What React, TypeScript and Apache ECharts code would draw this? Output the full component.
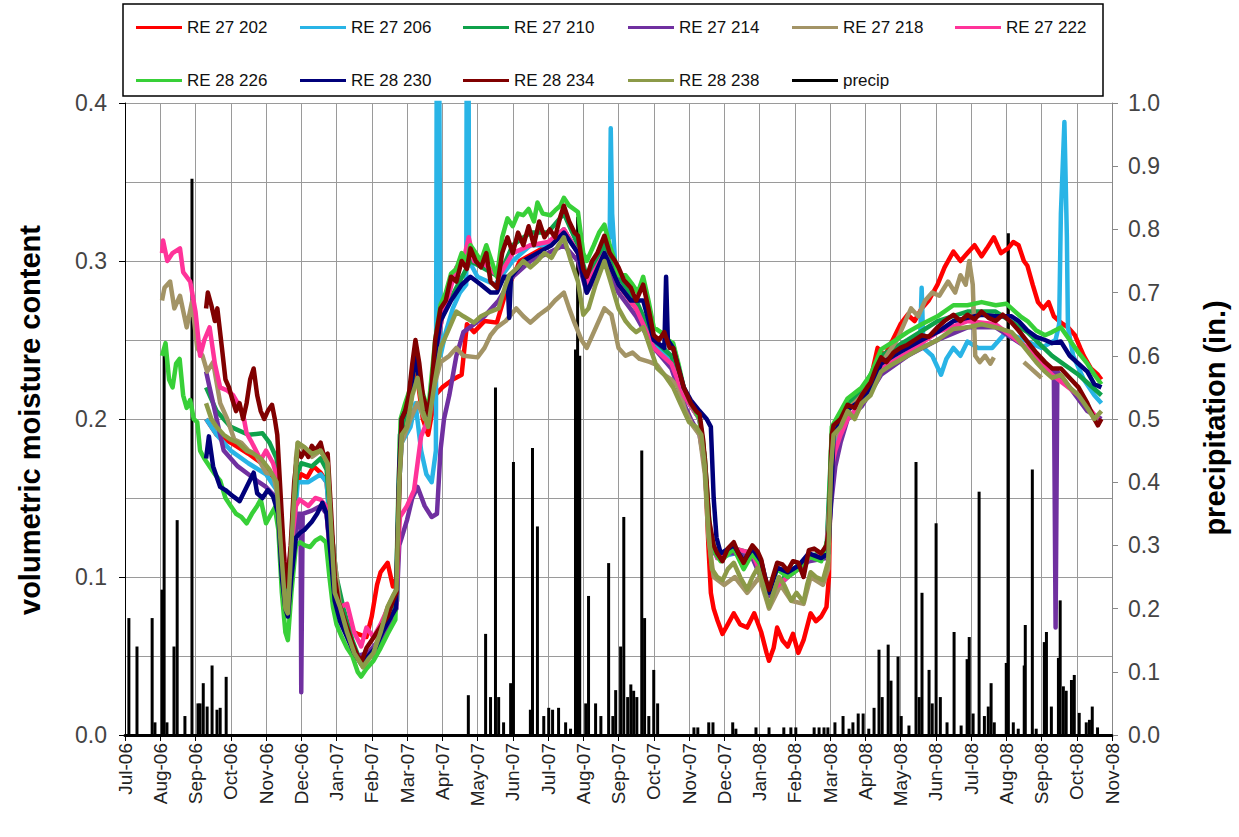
import React, { useEffect, useRef } from "react";
import * as echarts from "echarts";

const monthLabels = [
  "Jul-06", "Aug-06", "Sep-06", "Oct-06", "Nov-06", "Dec-06", "Jan-07", "Feb-07", "Mar-07", "Apr-07",
  "May-07", "Jun-07", "Jul-07", "Aug-07", "Sep-07", "Oct-07", "Nov-07", "Dec-07", "Jan-08", "Feb-08",
  "Mar-08", "Apr-08", "May-08", "Jun-08", "Jul-08", "Aug-08", "Sep-08", "Oct-08", "Nov-08",
];

const seriesNames = [
  "RE 27 202", "RE 27 206", "RE 27 210", "RE 27 214", "RE 27 218", "RE 27 222",
  "RE 28 226", "RE 28 230", "RE 28 234", "RE 28 238",
];
const precipName = "precip";

const seriesColors = [
  "#ff0000", "#29b4e6", "#0fa14a", "#7030a0", "#a39466", "#ff3399",
  "#38d038", "#00007a", "#800000", "#8c9a48",
];

type P = [number, number | null];

// x = months since 1 Jul 2006, y = volumetric moisture content
const re27_202: P[] = [[2.3,0.2],[2.6,0.19],[3.0,0.185],[3.5,0.178],[4.0,0.17],[4.3,0.16],[4.45,0.12],[4.58,0.085],[4.72,0.12],[4.88,0.16],[5.0,0.165],[5.17,0.163],[5.35,0.17],[5.55,0.166],[5.72,0.16],[5.85,0.125],[6.0,0.09],[6.2,0.075],[6.4,0.066],[6.6,0.064],[6.85,0.062],[7.0,0.075],[7.15,0.095],[7.25,0.103],[7.45,0.109],[7.6,0.094],[7.72,0.1],[7.8,0.17],[7.9,0.2],[8.1,0.21],[8.24,0.235],[8.45,0.2],[8.6,0.19],[8.8,0.215],[9.0,0.22],[9.3,0.225],[9.55,0.228],[9.7,0.26],[9.9,0.255],[10.2,0.262],[10.55,0.261],[10.8,0.28],[11.2,0.3],[11.6,0.305],[12.0,0.31],[12.45,0.32],[12.85,0.305],[13.1,0.285],[13.6,0.305],[14.0,0.285],[14.5,0.27],[15.0,0.245],[15.5,0.235],[15.85,0.215],[16.3,0.2],[16.45,0.175],[16.55,0.12],[16.62,0.09],[16.7,0.08],[16.8,0.073],[16.95,0.064],[17.1,0.07],[17.27,0.077],[17.45,0.07],[17.65,0.068],[17.85,0.077],[18.05,0.065],[18.2,0.052],[18.27,0.047],[18.4,0.055],[18.5,0.068],[18.65,0.06],[18.8,0.056],[18.95,0.064],[19.1,0.052],[19.25,0.06],[19.45,0.077],[19.6,0.072],[19.75,0.075],[19.9,0.081],[19.97,0.1],[20.03,0.18],[20.1,0.19],[20.3,0.198],[20.5,0.205],[20.9,0.215],[21.15,0.225],[21.35,0.245],[21.55,0.24],[21.8,0.251],[22.0,0.26],[22.2,0.266],[22.4,0.262],[22.6,0.27],[22.8,0.275],[23.05,0.285],[23.25,0.296],[23.5,0.306],[23.7,0.3],[23.9,0.305],[24.1,0.31],[24.3,0.303],[24.45,0.308],[24.65,0.315],[24.85,0.305],[25.05,0.308],[25.2,0.312],[25.35,0.31],[25.5,0.3],[25.6,0.297],[25.75,0.285],[25.9,0.274],[26.05,0.27],[26.2,0.274],[26.35,0.265],[26.55,0.261],[26.75,0.258],[26.95,0.253],[27.1,0.245],[27.2,0.24],[27.4,0.232],[27.6,0.228],[27.7,0.225]];

const re27_206: P[] = [[2.3,0.2],[2.6,0.19],[3.0,0.18],[3.5,0.172],[4.0,0.165],[4.3,0.155],[4.45,0.11],[4.58,0.08],[4.72,0.11],[4.9,0.16],[5.2,0.16],[5.55,0.165],[5.72,0.16],[5.85,0.12],[6.1,0.078],[6.5,0.055],[6.75,0.045],[7.05,0.052],[7.45,0.072],[7.7,0.085],[7.78,0.16],[7.85,0.185],[8.1,0.195],[8.24,0.21],[8.4,0.18],[8.55,0.165],[8.7,0.16],[8.82,0.18],[8.85,0.5],[8.9,0.5],[8.95,0.24],[9.1,0.255],[9.3,0.27],[9.5,0.28],[9.68,0.285],[9.7,0.5],[9.74,0.5],[9.76,0.3],[10.0,0.29],[10.5,0.285],[11.0,0.3],[11.5,0.31],[12.0,0.31],[12.45,0.32],[12.85,0.305],[13.1,0.285],[13.6,0.31],[13.75,0.315],[13.78,0.384],[13.82,0.33],[13.9,0.3],[14.0,0.29],[14.5,0.272],[15.0,0.248],[15.5,0.238],[15.85,0.215],[16.3,0.2],[16.45,0.17],[16.6,0.125],[16.8,0.112],[17.3,0.115],[17.8,0.113],[18.27,0.09],[18.8,0.1],[19.4,0.112],[19.9,0.115],[20.05,0.18],[20.3,0.195],[20.9,0.21],[21.45,0.232],[21.8,0.238],[22.2,0.24],[22.55,0.245],[22.6,0.283],[22.65,0.245],[22.9,0.24],[23.15,0.228],[23.3,0.238],[23.5,0.245],[23.7,0.24],[23.9,0.249],[24.2,0.245],[24.6,0.245],[25.0,0.255],[25.5,0.25],[26.0,0.245],[26.4,0.25],[26.5,0.26],[26.55,0.33],[26.65,0.388],[26.72,0.315],[26.75,0.258],[26.9,0.24],[27.2,0.225],[27.5,0.215],[27.7,0.21]];

const re27_210: P[] = [[2.3,0.22],[2.6,0.205],[3.0,0.195],[3.5,0.19],[3.9,0.191],[4.1,0.185],[4.3,0.175],[4.45,0.13],[4.58,0.09],[4.72,0.12],[4.88,0.165],[5.0,0.172],[5.3,0.17],[5.55,0.175],[5.72,0.168],[5.85,0.13],[6.0,0.1],[6.2,0.08],[6.45,0.06],[6.7,0.045],[7.0,0.05],[7.3,0.062],[7.6,0.075],[7.72,0.085],[7.8,0.19],[8.1,0.215],[8.24,0.24],[8.45,0.21],[8.6,0.2],[8.8,0.24],[9.0,0.265],[9.4,0.283],[9.8,0.3],[10.2,0.295],[10.6,0.29],[11.0,0.31],[11.5,0.318],[12.0,0.318],[12.45,0.33],[12.85,0.31],[13.1,0.29],[13.6,0.31],[14.0,0.29],[14.5,0.275],[15.0,0.25],[15.5,0.24],[15.85,0.218],[16.3,0.2],[16.45,0.175],[16.6,0.125],[16.8,0.113],[17.3,0.118],[17.8,0.115],[18.27,0.09],[18.8,0.102],[19.4,0.113],[19.9,0.116],[20.05,0.19],[20.5,0.21],[20.9,0.218],[21.45,0.24],[22.2,0.25],[23.05,0.262],[23.9,0.268],[24.7,0.268],[25.6,0.255],[26.3,0.24],[27.05,0.228],[27.7,0.215]];

const re27_214: P[] = [[2.3,0.23],[2.4,0.22],[2.6,0.2],[2.8,0.18],[3.0,0.175],[3.2,0.17],[3.5,0.165],[3.8,0.16],[4.0,0.157],[4.3,0.15],[4.45,0.11],[4.55,0.08],[4.62,0.078],[4.75,0.11],[4.9,0.14],[4.98,0.14],[5.0,0.027],[5.04,0.14],[5.3,0.142],[5.55,0.145],[5.72,0.14],[5.85,0.105],[6.0,0.085],[6.3,0.065],[6.6,0.05],[6.9,0.052],[7.2,0.06],[7.5,0.07],[7.7,0.08],[7.78,0.12],[7.85,0.125],[8.0,0.136],[8.15,0.15],[8.3,0.157],[8.5,0.145],[8.7,0.138],[8.85,0.14],[8.95,0.18],[9.05,0.2],[9.2,0.215],[9.4,0.24],[9.6,0.255],[9.9,0.26],[10.2,0.265],[10.6,0.275],[11.0,0.29],[11.5,0.3],[12.0,0.305],[12.45,0.31],[12.85,0.3],[13.1,0.28],[13.6,0.3],[14.0,0.28],[14.5,0.265],[15.0,0.245],[15.5,0.232],[15.85,0.21],[16.05,0.2],[16.3,0.19],[16.45,0.17],[16.55,0.13],[16.7,0.115],[17.3,0.115],[17.8,0.112],[18.27,0.088],[18.8,0.1],[19.4,0.11],[19.9,0.112],[20.05,0.15],[20.15,0.17],[20.3,0.185],[20.5,0.2],[20.9,0.208],[21.45,0.228],[22.2,0.24],[23.05,0.25],[23.9,0.258],[24.7,0.258],[25.6,0.245],[26.2,0.232],[26.35,0.23],[26.4,0.068],[26.45,0.23],[26.8,0.22],[27.3,0.205],[27.7,0.2]];

const re27_218: P[] = [[1.05,0.275],[1.12,0.283],[1.28,0.287],[1.4,0.27],[1.56,0.278],[1.75,0.258],[1.9,0.274],[2.05,0.245],[2.2,0.24],[2.33,0.23],[2.5,0.236],[2.7,0.21],[2.9,0.2],[3.1,0.187],[3.3,0.185],[3.5,0.18],[3.7,0.178],[4.0,0.166],[4.2,0.165],[4.35,0.15],[4.45,0.11],[4.55,0.078],[4.62,0.077],[4.72,0.12],[4.85,0.175],[4.9,0.185],[5.1,0.18],[5.3,0.176],[5.55,0.18],[5.75,0.172],[5.85,0.13],[6.1,0.081],[6.5,0.052],[6.75,0.043],[7.05,0.052],[7.45,0.081],[7.7,0.092],[7.78,0.16],[7.85,0.185],[8.1,0.2],[8.3,0.21],[8.5,0.2],[8.7,0.215],[8.95,0.236],[9.2,0.24],[9.4,0.245],[9.6,0.24],[10.0,0.239],[10.2,0.245],[10.37,0.253],[10.55,0.258],[10.8,0.262],[11.1,0.27],[11.3,0.265],[11.5,0.261],[11.75,0.266],[12.0,0.27],[12.2,0.275],[12.45,0.28],[12.6,0.27],[12.75,0.261],[12.95,0.25],[13.1,0.245],[13.3,0.255],[13.6,0.27],[13.8,0.266],[14.0,0.245],[14.2,0.24],[14.4,0.242],[14.6,0.238],[14.9,0.236],[15.1,0.234],[15.3,0.228],[15.5,0.225],[15.7,0.22],[15.9,0.205],[16.1,0.196],[16.3,0.19],[16.45,0.165],[16.55,0.125],[16.7,0.1],[17.0,0.095],[17.3,0.1],[17.65,0.09],[18.0,0.1],[18.27,0.08],[18.6,0.095],[18.9,0.085],[19.25,0.083],[19.45,0.1],[19.8,0.095],[19.95,0.105],[20.05,0.185],[20.5,0.205],[20.9,0.215],[21.3,0.23],[21.6,0.24],[21.9,0.25],[22.1,0.26],[22.3,0.27],[22.5,0.265],[22.7,0.275],[22.9,0.28],[23.1,0.278],[23.35,0.287],[23.55,0.28],[23.7,0.291],[23.85,0.285],[23.95,0.3],[24.05,0.285],[24.12,0.24],[24.25,0.236],[24.4,0.24],[24.55,0.235],[24.65,0.239],[24.8,null],[25.5,0.236],[25.7,0.232],[26.0,0.226]];

const re27_222: P[] = [[1.05,0.305],[1.08,0.313],[1.2,0.3],[1.35,0.305],[1.56,0.308],[1.65,0.293],[1.85,0.287],[2.0,0.268],[2.13,0.24],[2.25,0.25],[2.4,0.258],[2.55,0.235],[2.7,0.22],[2.9,0.218],[3.07,0.215],[3.2,0.21],[3.35,0.203],[3.45,0.191],[3.6,0.185],[3.85,0.174],[4.0,0.18],[4.2,0.172],[4.35,0.16],[4.45,0.13],[4.55,0.104],[4.62,0.1],[4.72,0.12],[4.85,0.145],[4.95,0.149],[5.2,0.145],[5.4,0.15],[5.55,0.149],[5.7,0.145],[5.85,0.11],[6.0,0.085],[6.1,0.081],[6.3,0.083],[6.5,0.065],[6.7,0.056],[6.85,0.068],[7.05,0.062],[7.25,0.07],[7.45,0.08],[7.7,0.09],[7.78,0.13],[7.8,0.138],[8.0,0.145],[8.2,0.155],[8.4,0.189],[8.6,0.2],[8.8,0.24],[9.0,0.265],[9.2,0.28],[9.4,0.296],[9.6,0.3],[9.75,0.315],[9.9,0.3],[10.2,0.298],[10.6,0.29],[11.0,0.305],[11.5,0.31],[12.0,0.312],[12.45,0.32],[12.85,0.305],[13.1,0.285],[13.6,0.305],[14.0,0.285],[14.5,0.27],[15.0,0.245],[15.5,0.235],[15.85,0.215],[16.3,0.2],[16.45,0.17],[16.6,0.125],[16.8,0.112],[17.3,0.118],[17.8,0.115],[18.27,0.09],[18.8,0.1],[19.4,0.112],[19.9,0.115],[20.05,0.17],[20.15,0.18],[20.3,0.19],[20.5,0.2],[20.9,0.21],[21.45,0.232],[22.2,0.242],[23.05,0.255],[23.9,0.262],[24.7,0.26],[25.6,0.245],[26.3,0.228],[27.05,0.215],[27.6,0.2]];

const re28_226: P[] = [[1.05,0.24],[1.15,0.248],[1.25,0.225],[1.35,0.22],[1.45,0.235],[1.55,0.238],[1.65,0.215],[1.75,0.207],[1.85,0.212],[1.95,0.2],[2.05,0.198],[2.13,0.18],[2.25,0.175],[2.4,0.17],[2.55,0.165],[2.7,0.161],[2.85,0.15],[3.0,0.145],[3.15,0.14],[3.3,0.138],[3.45,0.134],[3.6,0.14],[3.75,0.145],[3.85,0.149],[4.0,0.134],[4.1,0.138],[4.25,0.144],[4.35,0.13],[4.45,0.09],[4.55,0.065],[4.62,0.06],[4.72,0.09],[4.85,0.12],[4.97,0.122],[5.1,0.12],[5.25,0.119],[5.4,0.123],[5.55,0.125],[5.7,0.122],[5.8,0.1],[5.9,0.081],[6.0,0.07],[6.15,0.062],[6.3,0.055],[6.45,0.05],[6.6,0.04],[6.7,0.037],[6.85,0.042],[7.05,0.047],[7.25,0.055],[7.45,0.064],[7.67,0.073],[7.75,0.15],[7.82,0.2],[7.95,0.21],[8.1,0.22],[8.24,0.245],[8.4,0.22],[8.6,0.205],[8.8,0.25],[8.95,0.272],[9.1,0.28],[9.25,0.292],[9.4,0.295],[9.55,0.305],[9.7,0.3],[9.8,0.31],[9.95,0.305],[10.1,0.3],[10.25,0.31],[10.4,0.3],[10.55,0.29],[10.7,0.315],[10.85,0.327],[11.0,0.322],[11.15,0.33],[11.3,0.329],[11.45,0.333],[11.6,0.325],[11.7,0.337],[11.85,0.33],[12.07,0.329],[12.2,0.332],[12.35,0.335],[12.45,0.34],[12.6,0.335],[12.85,0.331],[13.0,0.305],[13.1,0.3],[13.3,0.31],[13.45,0.318],[13.6,0.323],[13.75,0.31],[13.9,0.3],[14.0,0.291],[14.2,0.291],[14.4,0.285],[14.55,0.28],[14.7,0.29],[14.85,0.275],[15.0,0.258],[15.2,0.255],[15.4,0.25],[15.55,0.248],[15.7,0.235],[15.85,0.22],[16.05,0.21],[16.3,0.2],[16.4,0.185],[16.5,0.155],[16.6,0.13],[16.75,0.115],[16.9,0.11],[17.27,0.118],[17.55,0.105],[17.8,0.115],[18.05,0.107],[18.27,0.09],[18.5,0.105],[18.8,0.1],[19.1,0.105],[19.4,0.113],[19.75,0.11],[19.95,0.125],[20.05,0.195],[20.3,0.205],[20.5,0.213],[20.9,0.22],[21.15,0.228],[21.45,0.244],[21.8,0.249],[22.2,0.255],[22.6,0.26],[23.05,0.265],[23.5,0.272],[23.9,0.272],[24.3,0.274],[24.7,0.272],[25.0,0.273],[25.15,0.27],[25.4,0.265],[25.6,0.262],[25.85,0.256],[26.1,0.253],[26.3,0.255],[26.55,0.258],[26.8,0.25],[27.05,0.242],[27.3,0.235],[27.5,0.228],[27.7,0.222]];

const re28_230: P[] = [[2.3,0.175],[2.38,0.189],[2.5,0.17],[2.7,0.157],[2.85,0.155],[3.07,0.151],[3.25,0.148],[3.45,0.157],[3.65,0.166],[3.75,0.153],[3.9,0.15],[4.05,0.155],[4.2,0.151],[4.35,0.14],[4.45,0.1],[4.55,0.08],[4.62,0.075],[4.72,0.1],[4.85,0.125],[4.97,0.128],[5.1,0.13],[5.3,0.135],[5.45,0.14],[5.6,0.147],[5.72,0.14],[5.85,0.11],[5.95,0.085],[6.1,0.072],[6.3,0.062],[6.5,0.052],[6.7,0.045],[6.9,0.05],[7.1,0.055],[7.3,0.065],[7.5,0.073],[7.68,0.08],[7.78,0.17],[7.85,0.2],[8.05,0.21],[8.24,0.24],[8.45,0.21],[8.6,0.2],[8.8,0.24],[8.95,0.262],[9.25,0.275],[9.55,0.285],[9.8,0.29],[10.1,0.285],[10.37,0.28],[10.55,0.28],[10.75,0.29],[10.85,0.29],[10.9,0.264],[10.95,0.29],[11.3,0.3],[11.7,0.305],[12.1,0.31],[12.45,0.318],[12.85,0.305],[13.1,0.28],[13.6,0.305],[14.0,0.285],[14.35,0.275],[14.7,0.275],[15.0,0.25],[15.3,0.245],[15.35,0.29],[15.4,0.25],[15.55,0.245],[15.85,0.22],[16.05,0.212],[16.3,0.205],[16.5,0.2],[16.62,0.195],[16.7,0.15],[16.78,0.125],[16.9,0.115],[17.27,0.12],[17.55,0.11],[17.8,0.118],[18.05,0.11],[18.27,0.09],[18.5,0.106],[18.8,0.103],[19.1,0.107],[19.4,0.115],[19.75,0.112],[19.95,0.115],[20.03,0.15],[20.1,0.19],[20.5,0.206],[20.9,0.212],[21.15,0.22],[21.45,0.235],[21.8,0.24],[22.2,0.245],[22.6,0.25],[23.05,0.255],[23.5,0.262],[23.9,0.264],[24.3,0.266],[24.7,0.265],[25.15,0.265],[25.35,0.262],[25.6,0.256],[25.85,0.252],[26.1,0.25],[26.3,0.248],[26.55,0.249],[26.8,0.24],[27.05,0.235],[27.3,0.23],[27.5,0.222],[27.7,0.22]];

const re28_234: P[] = [[2.3,0.27],[2.35,0.28],[2.45,0.272],[2.55,0.262],[2.62,0.27],[2.75,0.245],[2.85,0.225],[2.95,0.22],[3.05,0.212],[3.15,0.205],[3.25,0.21],[3.35,0.2],[3.45,0.21],[3.55,0.225],[3.65,0.232],[3.75,0.215],[3.85,0.205],[3.95,0.2],[4.05,0.205],[4.17,0.209],[4.25,0.2],[4.32,0.19],[4.42,0.15],[4.52,0.11],[4.6,0.094],[4.7,0.12],[4.8,0.16],[4.9,0.18],[5.0,0.176],[5.1,0.18],[5.2,0.176],[5.3,0.183],[5.4,0.18],[5.55,0.185],[5.65,0.176],[5.75,0.178],[5.85,0.14],[5.95,0.1],[6.05,0.085],[6.15,0.078],[6.3,0.068],[6.45,0.058],[6.6,0.05],[6.72,0.047],[6.85,0.055],[7.0,0.06],[7.15,0.065],[7.3,0.07],[7.45,0.075],[7.6,0.085],[7.7,0.09],[7.78,0.16],[7.85,0.2],[7.95,0.205],[8.05,0.215],[8.15,0.235],[8.24,0.25],[8.35,0.235],[8.45,0.215],[8.6,0.203],[8.7,0.22],[8.8,0.25],[8.95,0.27],[9.1,0.275],[9.25,0.29],[9.4,0.287],[9.55,0.3],[9.7,0.295],[9.8,0.308],[9.95,0.3],[10.1,0.296],[10.25,0.305],[10.37,0.287],[10.55,0.283],[10.7,0.305],[10.85,0.315],[11.0,0.305],[11.15,0.318],[11.3,0.31],[11.45,0.322],[11.6,0.31],[11.75,0.325],[11.9,0.315],[12.05,0.32],[12.2,0.315],[12.35,0.328],[12.45,0.335],[12.6,0.325],[12.75,0.318],[12.85,0.316],[13.0,0.295],[13.1,0.29],[13.25,0.3],[13.4,0.305],[13.6,0.316],[13.75,0.305],[13.9,0.3],[14.0,0.296],[14.15,0.288],[14.35,0.283],[14.5,0.275],[14.7,0.285],[14.85,0.27],[15.0,0.253],[15.15,0.25],[15.3,0.255],[15.45,0.245],[15.55,0.245],[15.7,0.232],[15.85,0.22],[16.05,0.21],[16.2,0.205],[16.3,0.203],[16.4,0.187],[16.5,0.16],[16.57,0.136],[16.7,0.12],[16.8,0.115],[16.95,0.11],[17.1,0.118],[17.27,0.122],[17.4,0.115],[17.55,0.109],[17.7,0.116],[17.8,0.12],[17.95,0.116],[18.05,0.111],[18.15,0.1],[18.27,0.092],[18.38,0.1],[18.5,0.109],[18.65,0.108],[18.8,0.104],[18.95,0.11],[19.1,0.109],[19.25,0.1],[19.4,0.117],[19.55,0.118],[19.75,0.115],[19.9,0.12],[19.97,0.13],[20.05,0.19],[20.1,0.196],[20.3,0.2],[20.5,0.209],[20.7,0.207],[20.9,0.215],[21.05,0.22],[21.15,0.223],[21.3,0.232],[21.45,0.239],[21.6,0.236],[21.8,0.242],[22.0,0.245],[22.2,0.247],[22.4,0.25],[22.6,0.253],[22.8,0.252],[23.05,0.258],[23.25,0.262],[23.5,0.266],[23.7,0.262],[23.9,0.266],[24.1,0.263],[24.3,0.268],[24.5,0.264],[24.7,0.262],[24.9,0.266],[25.15,0.261],[25.35,0.256],[25.6,0.249],[25.85,0.242],[26.1,0.236],[26.3,0.232],[26.55,0.232],[26.8,0.226],[27.05,0.22],[27.3,0.21],[27.5,0.2],[27.6,0.196],[27.7,0.2]];

const re28_238: P[] = [[2.3,0.21],[2.45,0.2],[2.6,0.195],[2.8,0.19],[3.0,0.187],[3.2,0.185],[3.45,0.18],[3.65,0.178],[3.85,0.175],[4.1,0.168],[4.3,0.16],[4.42,0.12],[4.55,0.08],[4.62,0.077],[4.72,0.12],[4.85,0.17],[4.9,0.185],[5.1,0.182],[5.3,0.178],[5.55,0.18],[5.75,0.172],[5.85,0.13],[5.95,0.09],[6.1,0.081],[6.3,0.065],[6.5,0.052],[6.75,0.043],[6.9,0.048],[7.05,0.052],[7.25,0.065],[7.45,0.081],[7.6,0.088],[7.7,0.092],[7.78,0.16],[7.85,0.19],[8.0,0.195],[8.15,0.215],[8.3,0.226],[8.45,0.205],[8.6,0.195],[8.8,0.225],[8.95,0.245],[9.15,0.255],[9.4,0.268],[9.6,0.265],[9.9,0.261],[10.1,0.265],[10.37,0.268],[10.6,0.27],[10.8,0.285],[10.9,0.291],[11.1,0.295],[11.3,0.3],[11.5,0.296],[11.7,0.3],[11.9,0.305],[12.1,0.302],[12.3,0.31],[12.45,0.315],[12.65,0.3],[12.85,0.287],[13.0,0.266],[13.15,0.27],[13.35,0.285],[13.6,0.3],[13.8,0.285],[14.0,0.27],[14.2,0.262],[14.35,0.258],[14.5,0.255],[14.7,0.258],[14.9,0.245],[15.1,0.232],[15.3,0.228],[15.55,0.22],[15.75,0.21],[16.0,0.198],[16.2,0.195],[16.35,0.19],[16.45,0.17],[16.55,0.13],[16.65,0.105],[16.8,0.1],[16.95,0.098],[17.1,0.105],[17.27,0.109],[17.45,0.1],[17.65,0.092],[17.8,0.1],[17.95,0.106],[18.1,0.095],[18.27,0.081],[18.4,0.09],[18.55,0.1],[18.7,0.095],[18.9,0.085],[19.05,0.09],[19.25,0.084],[19.35,0.095],[19.45,0.103],[19.6,0.1],[19.8,0.098],[19.95,0.11],[20.03,0.17],[20.1,0.19],[20.3,0.195],[20.5,0.205],[20.7,0.2],[20.9,0.21],[21.15,0.215],[21.45,0.23],[21.8,0.235],[22.2,0.24],[22.6,0.245],[23.05,0.25],[23.5,0.257],[23.9,0.258],[24.3,0.26],[24.7,0.258],[25.15,0.255],[25.35,0.25],[25.6,0.243],[25.85,0.236],[26.1,0.23],[26.3,0.226],[26.55,0.228],[26.8,0.22],[27.05,0.215],[27.3,0.207],[27.5,0.2],[27.7,0.205]];

// daily precipitation (in.), x = months since 1 Jul 2006
const precip: [number, number][] = [[0.11,0.185],[0.34,0.14],[0.77,0.185],[0.85,0.02],[1.05,0.23],[1.11,0.605],[1.19,0.02],[1.39,0.14],[1.48,0.34],[1.7,0.03],[1.9,0.88],[2.07,0.05],[2.13,0.05],[2.22,0.082],[2.33,0.045],[2.47,0.11],[2.61,0.04],[2.7,0.043],[2.87,0.092],[9.74,0.063],[10.23,0.16],[10.37,0.06],[10.51,0.55],[10.6,0.06],[10.74,0.02],[10.94,0.082],[11.02,0.432],[11.5,0.04],[11.56,0.454],[11.7,0.33],[11.88,0.03],[12.02,0.043],[12.13,0.04],[12.3,0.043],[12.5,0.02],[12.64,0.01],[12.78,0.61],[12.84,0.82],[12.9,0.6],[13.07,0.05],[13.15,0.22],[13.35,0.05],[13.5,0.03],[13.72,0.272],[13.84,0.03],[13.92,0.071],[14.06,0.14],[14.15,0.345],[14.26,0.06],[14.35,0.08],[14.43,0.07],[14.52,0.06],[14.66,0.45],[14.74,0.185],[14.86,0.03],[15.0,0.103],[15.11,0.05],[16.14,0.012],[16.25,0.012],[16.56,0.02],[16.68,0.02],[17.24,0.02],[17.33,0.01],[17.9,0.012],[18.27,0.012],[18.69,0.012],[18.89,0.012],[19.03,0.012],[19.55,0.012],[19.69,0.012],[19.83,0.012],[19.94,0.012],[20.14,0.02],[20.37,0.03],[20.54,0.01],[20.65,0.02],[20.8,0.034],[20.94,0.034],[21.1,0.01],[21.25,0.043],[21.39,0.135],[21.48,0.06],[21.65,0.143],[21.73,0.086],[21.93,0.124],[22.02,0.03],[22.24,0.015],[22.44,0.432],[22.53,0.06],[22.61,0.225],[22.81,0.103],[22.9,0.05],[23.01,0.335],[23.13,0.06],[23.32,0.02],[23.52,0.163],[23.72,0.015],[23.89,0.12],[23.95,0.155],[24.06,0.034],[24.23,0.385],[24.38,0.03],[24.49,0.045],[24.57,0.082],[24.66,0.02],[25.0,0.114],[25.06,0.794],[25.2,0.02],[25.34,0.01],[25.51,0.11],[25.54,0.174],[25.74,0.42],[25.85,0.01],[26.08,0.147],[26.14,0.163],[26.28,0.045],[26.48,0.122],[26.53,0.213],[26.62,0.077],[26.7,0.07],[26.85,0.087],[26.93,0.095],[27.07,0.035],[27.27,0.02],[27.36,0.024],[27.44,0.045],[27.59,0.012]];

const moistureData = [re27_202, re27_206, re27_210, re27_214, re27_218, re27_222, re28_226, re28_230, re28_234, re28_238];

const FONT = "'Liberation Sans', Arial, sans-serif";

export default function App() {
  const ref = useRef<HTMLDivElement>(null);
  useEffect(() => {
    if (!ref.current) return;
    const chart = echarts.init(ref.current, null, { renderer: "svg" });

    const legendNames = [...seriesNames, precipName];
    const legendColors = [...seriesColors, "#000000"];
    const legendSlots: [number, number][] = [
      [136, 19], [300, 19], [463, 19], [628, 19], [792, 19], [955, 19],
      [136, 72], [300, 72], [463, 72], [628, 72], [792, 72],
    ];
    const legends = legendNames.map((n, i) => ({
      data: [{ name: n, icon: "rect", itemStyle: { color: legendColors[i] } }],
      left: legendSlots[i][0],
      top: legendSlots[i][1],
      padding: 0,
      itemWidth: 46,
      itemHeight: 3,
      itemGap: 5,
      selectedMode: false,
      textStyle: { fontFamily: FONT, fontSize: 17, color: "#111" },
    }));

    const lineSeries = seriesNames.map((n, i) => ({
      name: n,
      type: "line",
      data: moistureData[i],
      yAxisIndex: 0,
      xAxisIndex: 0,
      showSymbol: false,
      symbol: "none",
      clip: true,
      connectNulls: false,
      lineStyle: { color: seriesColors[i], width: 4.5, join: "round" },
      itemStyle: { color: seriesColors[i] },
      emphasis: { disabled: true },
    }));

    const gridColor = "#9a9a9a";

    const option: any = {
      animation: false,
      backgroundColor: "#ffffff",
      textStyle: { fontFamily: FONT },
      grid: { left: 125, right: 127, top: 103, bottom: 102, containLabel: false },
      legend: legends,
      xAxis: {
        type: "value",
        min: 0,
        max: 28,
        interval: 1,
        axisLine: { show: true, onZero: false, lineStyle: { color: "#000", width: 3 } },
        axisTick: { show: true, length: 6, inside: false, lineStyle: { color: "#000", width: 1 } },
        axisLabel: {
          rotate: 90,
          margin: 8,
          fontFamily: FONT,
          fontSize: 19,
          color: "#222",
          formatter: (v: number) => monthLabels[Math.round(v)] ?? "",
        },
        splitLine: { show: true, lineStyle: { color: gridColor, width: 1 } },
      },
      yAxis: [
        {
          type: "value",
          min: 0,
          max: 0.4,
          interval: 0.1,
          position: "left",
          axisLine: { show: true, lineStyle: { color: "#000", width: 1 } },
          axisTick: { show: true, length: 6, lineStyle: { color: "#000" } },
          axisLabel: {
            margin: 18,
            fontFamily: FONT,
            fontSize: 23,
            color: "#444",
            formatter: (v: number) => v.toFixed(1),
          },
          splitLine: { show: true, lineStyle: { color: gridColor, width: 1 } },
          minorTick: { show: false, splitNumber: 2 },
          minorSplitLine: { show: true, lineStyle: { color: gridColor, width: 1 } },
        },
        {
          type: "value",
          min: 0,
          max: 1,
          interval: 0.1,
          position: "right",
          axisLine: { show: true, lineStyle: { color: "#888", width: 1 } },
          axisTick: { show: true, length: 6, lineStyle: { color: "#888" } },
          axisLabel: {
            margin: 16,
            fontFamily: FONT,
            fontSize: 23,
            color: "#444",
            formatter: (v: number) => v.toFixed(1),
          },
          splitLine: { show: false },
        },
      ],
      graphic: [
        {
          type: "rect",
          shape: { x: 123, y: 4, width: 980, height: 92 },
          style: { fill: "none", stroke: "#000", lineWidth: 1.5 },
          silent: true,
          z: 0,
        },
        {
          type: "text",
          x: 30,
          y: 420,
          rotation: Math.PI / 2,
          style: {
            text: "volumetric moisture content",
            font: `bold 29px ${FONT}`,
            fill: "#000",
            align: "center",
            verticalAlign: "middle",
          },
          silent: true,
        },
        {
          type: "text",
          x: 1215,
          y: 418,
          rotation: Math.PI / 2,
          style: {
            text: "precipitation (in.)",
            font: `bold 29px ${FONT}`,
            fill: "#000",
            align: "center",
            verticalAlign: "middle",
          },
          silent: true,
        },
      ],
      series: [
        ...lineSeries,
        {
          name: precipName,
          type: "bar",
          data: precip,
          xAxisIndex: 0,
          yAxisIndex: 1,
          barWidth: 3,
          barGap: "-100%",
          itemStyle: { color: "#000" },
          emphasis: { disabled: true },
        },
      ],
    };

    chart.setOption(option);
    return () => chart.dispose();
  }, []);

  return (
    <div
      ref={ref}
      style={{ position: "absolute", left: 0, top: 0, width: 1239, height: 837, background: "#fff" }}
    />
  );
}
